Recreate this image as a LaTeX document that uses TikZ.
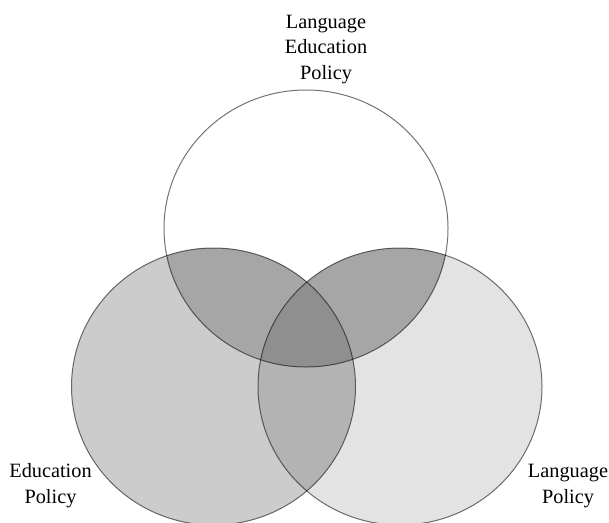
\documentclass[tikz,border=0pt]{standalone}
\usepackage{fontspec}
\setmainfont{Liberation Serif}
\begin{document}
\begin{tikzpicture}[x=1pt,y=-1pt,
  lbl/.style={anchor=base,inner sep=0pt,font=\fontsize{20.3}{25.5}\selectfont},
  rim/.style={draw=black,draw opacity=0.55,line width=1pt}]
\useasboundingbox (0,0) rectangle (609,522);
\fill[white] (0,0) rectangle (609,522);
\coordinate (cT) at (306,228.5);
\coordinate (cL) at (213.5,386.5);
\coordinate (cR) at (400,386.5);
\def\rx{142pt}\def\ry{138.5pt}
\begin{scope}
\clip (0,0) rectangle (609,522);
\fill[fill={rgb,255:red,204;green,204;blue,204}] (cL) ellipse [x radius=\rx,y radius=\ry];
\fill[fill={rgb,255:red,227;green,227;blue,227}] (cR) ellipse [x radius=\rx,y radius=\ry];
\begin{scope}
\clip (cL) ellipse [x radius=\rx,y radius=\ry];
\fill[fill={rgb,255:red,179;green,179;blue,179}] (cR) ellipse [x radius=\rx,y radius=\ry];
\end{scope}
\begin{scope}
\clip (cT) ellipse [x radius=\rx,y radius=\ry];
\fill[fill={rgb,255:red,166;green,166;blue,166}] (cL) ellipse [x radius=\rx,y radius=\ry];
\fill[fill={rgb,255:red,166;green,166;blue,166}] (cR) ellipse [x radius=\rx,y radius=\ry];
\clip (cL) ellipse [x radius=\rx,y radius=\ry];
\fill[fill={rgb,255:red,143;green,143;blue,143}] (cR) ellipse [x radius=\rx,y radius=\ry];
\end{scope}
\draw[rim] (cL) ellipse [x radius=\rx,y radius=\ry];
\draw[rim] (cR) ellipse [x radius=\rx,y radius=\ry];
\draw[rim] (cT) ellipse [x radius=\rx,y radius=\ry];
\end{scope}
\node[lbl] (t1) at (326,28.3) {Language};
\node[lbl] (t2) at (326,53.8) {Education};
\node[lbl] (t3) at (326,79.3) {Policy};
\node[lbl] (l1) at (50.5,477) {Education};
\node[lbl] (l2) at (50.5,503) {Policy};
\node[lbl] (r1) at (568,477) {Language};
\node[lbl] (r2) at (568,503) {Policy};
\end{tikzpicture}
\end{document}
